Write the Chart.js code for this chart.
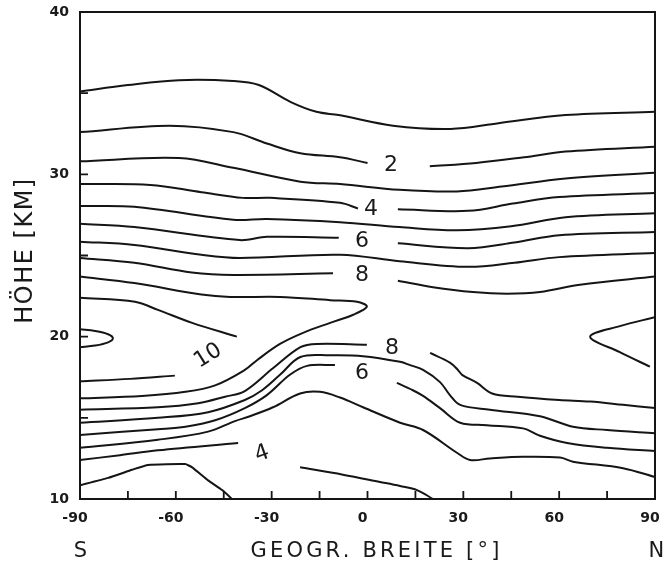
<!DOCTYPE html>
<html>
<head>
<meta charset="utf-8">
<script src="https://cdn.jsdelivr.net/npm/chart.js@4.4.1/dist/chart.umd.min.js"></script>
<style>
  html, body { margin: 0; padding: 0; background: #fff; }
</style>
</head>
<body>
<canvas id="ozon" width="665" height="569"></canvas>
<script>
// Isolinien, jeder Punkt [geogr. Breite in Grad, Hoehe in km]
const linie1 = [[-90, 35.1], [-75, 35.5], [-59, 35.8], [-42, 35.75], [-34, 35.5], [-24, 34.45], [-16, 33.85], [-9, 33.65], [8, 33.0], [26, 32.8], [41, 33.15], [62, 33.65], [90, 33.85]];
const linie2a = [[-90, 32.6], [-62, 33.0], [-42, 32.6], [-31.5, 31.9], [-21, 31.3], [-8.6, 31.05], [0, 30.7]];
const linie2b = [[19.5, 30.5], [34, 30.7], [49, 31.05], [62, 31.4], [90, 31.7]];
const linie3 = [[-90, 30.8], [-59, 31.0], [-42, 30.4], [-21, 29.55], [-8.6, 29.4], [10, 29.05], [28, 28.95], [42, 29.25], [62, 29.75], [90, 30.1]];
const linie4a = [[-90, 29.4], [-68, 29.35], [-52, 28.9], [-39, 28.55], [-30.5, 28.55], [-8.6, 28.25], [-3, 27.9]];
const linie4b = [[9.5, 27.85], [31.5, 27.75], [45.5, 28.2], [60, 28.6], [90, 28.85]];
const linie5 = [[-90, 28.05], [-73, 28.0], [-42, 27.2], [-31.5, 27.25], [-8.6, 27.05], [10, 26.75], [28, 26.55], [45, 26.8], [62, 27.35], [90, 27.6]];
const linie6a = [[-90, 26.95], [-73, 26.75], [-40, 25.95], [-31.5, 26.15], [-9, 26.1]];
const linie6b = [[9.5, 25.75], [31.5, 25.45], [46, 25.8], [60, 26.25], [90, 26.45]];
const linie7 = [[-90, 25.85], [-73, 25.65], [-52, 25.05], [-40, 24.85], [-8.6, 25.05], [10, 24.65], [31.5, 24.3], [46, 24.55], [60, 24.9], [90, 25.15]];
const linie8a = [[-90, 24.85], [-73, 24.55], [-55, 23.95], [-42, 23.8], [-10.8, 23.9]];
const linie8b = [[9.5, 23.45], [20.5, 23.05], [33, 22.75], [43.7, 22.65], [54, 22.75], [66.5, 23.2], [90, 23.7]];
const linie9 = [[-90, 23.7], [-73, 23.3], [-52, 22.6], [-43, 22.45], [-27.4, 22.45], [-11.7, 22.25], [-3.3, 22.15], [-0.2, 21.85], [-4.5, 21.35], [-11.7, 20.85], [-20, 20.25], [-27.4, 19.55], [-34.6, 18.55], [-38.4, 17.95], [-47.7, 17.0], [-57, 16.6], [-70.6, 16.35], [-90, 16.2]];
const linie9r = [[90, 21.2], [79, 20.65], [69.7, 20.0], [79, 19.05], [88.4, 18.15]];
const linie10a = [[-90, 22.4], [-72.8, 22.15], [-65.6, 21.65], [-54.9, 20.85], [-40.9, 20.0]];
const linie10b = [[-90, 17.25], [-74.3, 17.4], [-60.3, 17.6]];
const linie11 = [[-90, 20.45], [-85.3, 20.35], [-81.2, 20.15], [-79.7, 19.9], [-81.2, 19.65], [-85.3, 19.45], [-90, 19.35]];
const linie8c = [[-90, 15.5], [-65.6, 15.65], [-53, 15.9], [-44.6, 16.3], [-38.4, 16.65], [-29.6, 18.05], [-21, 19.35], [-15.8, 19.55], [-0.2, 19.5]];
const linie8d = [[19.6, 19.0], [25.8, 18.4], [28.3, 17.95], [29.6, 17.65], [34.3, 17.15], [39, 16.5], [47, 16.3], [60, 16.1], [69.7, 16.0], [80, 15.8], [90, 15.6]];
const linie7b = [[-90, 14.7], [-65.6, 15.0], [-49.9, 15.35], [-38.4, 16.1], [-33, 16.7], [-27.4, 17.65], [-21, 18.75], [-11.7, 18.85], [-1.4, 18.8], [10.2, 18.45], [13.3, 18.25], [17.4, 17.95], [22.7, 17.2], [25.8, 16.4], [29, 15.8], [38.3, 15.5], [54, 15.1], [64.3, 14.45], [75, 14.25], [90, 14.05]];
const linie6c = [[-90, 13.95], [-65.6, 14.3], [-57, 14.45], [-47.7, 14.85], [-38.4, 15.6], [-31.5, 16.4], [-24.3, 17.65], [-18.9, 18.2], [-10.2, 18.25]];
const linie6d = [[9.2, 17.15], [14.2, 16.7], [17.4, 16.35], [22.7, 15.6], [29, 14.7], [37.4, 14.55], [48.7, 14.35], [54, 13.9], [62.5, 13.45], [75, 13.15], [90, 12.95]];
const linie5b = [[-90, 13.15], [-65.6, 13.65], [-49.9, 14.15], [-41.5, 14.8], [-36.8, 15.1], [-29.6, 15.65], [-21.1, 16.5], [-14.9, 16.6], [-8.6, 16.25], [-1.4, 15.65], [10.2, 14.7], [17.4, 14.25], [28, 12.85], [32.1, 12.4], [38.3, 12.5], [48.7, 12.6], [60.3, 12.55], [64.3, 12.3], [80, 11.9], [90, 11.35]];
const linie4c = [[-90, 12.4], [-77.5, 12.7], [-65.6, 13.0], [-40.5, 13.45]];
const linie4d = [[-21.1, 11.95], [-7.7, 11.5], [3.9, 11.05], [10.2, 10.8], [15.5, 10.55], [20.5, 10.0]];
const linie3b = [[-90, 10.85], [-81.2, 11.3], [-73.7, 11.8], [-68.7, 12.1], [-57.1, 12.15], [-54.9, 11.95], [-49.9, 11.15], [-45.5, 10.55], [-42.4, 10.0]];

const linien = [linie1, linie2a, linie2b, linie3, linie4a, linie4b, linie5, linie6a, linie6b, linie7,
  linie8a, linie8b, linie9, linie9r, linie10a, linie10b, linie11, linie8c, linie8d, linie7b,
  linie6c, linie6d, linie5b, linie4c, linie4d, linie3b];

// Werte an den Linien
const beschriftung = ['2', '4', '6', '8', '10', '8', '6', '4'];
const beschriftungBreite = [7.35, 1.1, -1.7, -1.7, -49.9, 7.7, -1.7, -33];
const beschriftungHoehe = [30.57, 27.86, 25.89, 23.8, 18.81, 19.3, 17.76, 12.77];
const winkel = [0, 0, 0, 0, -32, 0, 0, -20];

// Achsenbeschriftung
const breiteLabels = [-90, -60, -30, 0, 30, 60, 90];
const hoeheLabels = [10, 20, 30, 40];

const rahmen = {
  id: 'rahmen',
  afterDraw(chart) {
    const { ctx, chartArea: a, scales: { x, y } } = chart;
    ctx.save();
    ctx.strokeStyle = '#151515';
    ctx.lineWidth = 2;
    ctx.strokeRect(a.left, a.top, a.right - a.left, a.bottom - a.top);

    // kleine Striche nach innen
    ctx.lineWidth = 1.8;
    ctx.beginPath();
    x.ticks.forEach(t => {
      const px = x.getPixelForValue(t.value);
      ctx.moveTo(px, a.bottom);
      ctx.lineTo(px, a.bottom - 8);
    });
    y.ticks.forEach(t => {
      const py = y.getPixelForValue(t.value);
      ctx.moveTo(a.left, py);
      ctx.lineTo(a.left + 8, py);
    });
    ctx.stroke();

    ctx.fillStyle = '#1a1a1a';
    ctx.textAlign = 'center';
    ctx.textBaseline = 'middle';
    ctx.font = '22px "DejaVu Sans"';
    beschriftung.forEach((txt, i) => {
      ctx.save();
      ctx.translate(x.getPixelForValue(beschriftungBreite[i]), y.getPixelForValue(beschriftungHoehe[i]));
      ctx.rotate(winkel[i] * Math.PI / 180);
      ctx.fillText(txt, 0, 0);
      ctx.restore();
    });

    // Achsentitel
    ctx.font = '21px "DejaVu Sans"';
    ctx.letterSpacing = '3.2px';
    const ty = a.bottom + 53;
    ctx.fillText('GEOGR. BREITE [°]', (a.left + a.right) / 2 + 9, ty);
    ctx.fillText('S', a.left + 2, ty);
    ctx.fillText('N', a.right + 3, ty);

    ctx.save();
    ctx.font = '24px "DejaVu Sans"';
    ctx.letterSpacing = '1.5px';
    ctx.translate(26, (a.top + a.bottom) / 2 - 5);
    ctx.rotate(-Math.PI / 2);
    ctx.fillText('HÖHE [KM]', 0, 0);
    ctx.restore();
    ctx.restore();
  }
};

new Chart(document.getElementById('ozon'), {
  type: 'scatter',
  data: {
    datasets: linien.map(l => ({
      data: l.map(([b, h]) => ({ x: b, y: h })),
      showLine: true,
      borderColor: '#151515',
      borderWidth: 2,
      pointRadius: 0,
      fill: false,
      tension: l === linie3b ? 0.15 : 0.35
    }))
  },
  options: {
    responsive: false,
    animation: false,
    layout: { padding: { top: 12, right: 10, left: 0, bottom: 0 } },
    plugins: { legend: { display: false }, tooltip: { enabled: false } },
    scales: {
      x: {
        type: 'linear',
        min: -90,
        max: 90,
        grid: { display: false },
        border: { display: false },
        afterFit: s => { s.height = 70; s.paddingLeft = 0; s.paddingRight = 0; },
        ticks: {
          stepSize: 15,
          autoSkip: false,
          maxRotation: 0,
          padding: 3,
          labelOffset: -5,
          color: '#1a1a1a',
          font: { family: 'DejaVu Sans', size: 14, weight: 'bold' },
          callback: v => breiteLabels.includes(v) ? String(v) : ''
        }
      },
      y: {
        type: 'linear',
        min: 10,
        max: 40,
        grid: { display: false },
        border: { display: false },
        afterFit: s => { s.width = 80; s.paddingTop = 0; s.paddingBottom = 0; },
        ticks: {
          stepSize: 5,
          autoSkip: false,
          padding: 3,
          color: '#1a1a1a',
          font: { family: 'DejaVu Sans', size: 14, weight: 'bold' },
          callback: v => hoeheLabels.includes(v) ? String(v) : ''
        }
      }
    }
  },
  plugins: [rahmen]
});
</script>
</body>
</html>
